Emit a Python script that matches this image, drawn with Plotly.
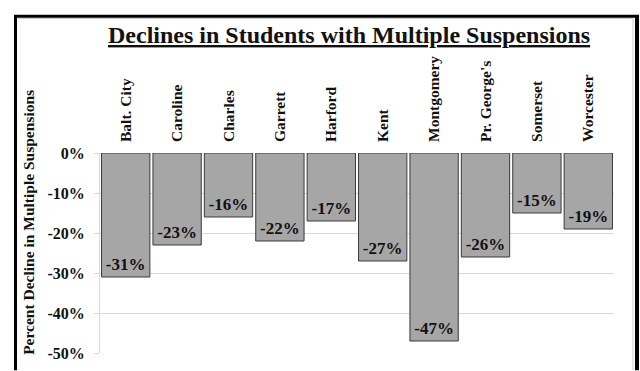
import plotly.graph_objects as go

counties = ["Balt. City", "Caroline", "Charles", "Garrett", "Harford", "Kent",
            "Montgomery", "Pr. George's", "Somerset", "Worcester"]
declines = [-31, -23, -16, -22, -17, -27, -47, -26, -15, -19]
y_ticks = [0, -10, -20, -30, -40, -50]
y_tick_labels = ["0%", "-10%", "-20%", "-30%", "-40%", "-50%"]

W, H = 640, 371
L, R, T, B = 100, 26, 153, 9
pw, ph = W - L - R, H - T - B

def px(x):
    return (x - L) / pw

def py(y):
    return (H - B - y) / ph

serif = "Liberation Serif"

fig = go.Figure(go.Bar(
    x=counties, y=declines,
    marker=dict(color="#a6a6a6", line=dict(color="#3a3a3a", width=1)),
    text=[f"{v}%" for v in declines],
    textposition="inside", insidetextanchor="end",
    textfont=dict(family=serif, size=17, color="#111111", weight="bold"),
    textangle=0,
    cliponaxis=False,
))

fig.update_layout(
    width=W, height=H,
    margin=dict(l=L, r=R, t=T, b=B),
    paper_bgcolor="white", plot_bgcolor="white",
    bargap=0.06,
    showlegend=False,
    xaxis=dict(side="top", tickangle=-90, showgrid=False, showline=False,
               ticks="", ticklabelstandoff=10,
               tickfont=dict(family=serif, size=15.5, color="#111111", weight="bold")),
    yaxis=dict(range=[-50, 0], tickvals=y_ticks, ticktext=y_tick_labels,
               showgrid=True, gridcolor="#d9d9d9", gridwidth=1,
               showline=True, linecolor="#d9d9d9", linewidth=1,
               ticks="outside", ticklen=5, tickcolor="#d9d9d9",
               ticklabelstandoff=6, zeroline=False,
               tickfont=dict(family=serif, size=16, color="#111111", weight="bold")),
    annotations=[
        dict(text="<u>Declines in Students with Multiple Suspensions</u>",
             xref="paper", yref="paper", x=px(349), y=py(30),
             xanchor="center", yanchor="middle", showarrow=False,
             font=dict(family=serif, size=24, color="#111111", weight="bold")),
        dict(text="Percent Decline in Multiple Suspensions",
             xref="paper", yref="paper", x=px(29), y=py(226),
             xanchor="center", yanchor="middle", showarrow=False, textangle=-90,
             font=dict(family=serif, size=15.5, color="#111111", weight="bold")),
    ],
    shapes=[
        dict(type="line", xref="paper", yref="paper",
             x0=px(15.5), x1=px(15.5), y0=py(9), y1=py(380),
             line=dict(color="black", width=3)),
        dict(type="line", xref="paper", yref="paper",
             x0=px(14), x1=px(639), y0=py(10), y1=py(10),
             line=dict(color="black", width=3)),
        dict(type="line", xref="paper", yref="paper",
             x0=px(637), x1=px(637), y0=py(9), y1=py(380),
             line=dict(color="black", width=4)),
        dict(type="line", xref="paper", yref="paper",
             x0=px(18), x1=px(633), y0=py(12.5), y1=py(12.5),
             line=dict(color="#cccccc", width=1)),
        dict(type="line", xref="paper", yref="paper",
             x0=px(633), x1=px(633), y0=py(12.5), y1=py(380),
             line=dict(color="#cccccc", width=1)),
    ],
)

fig.write_html("out.html")
